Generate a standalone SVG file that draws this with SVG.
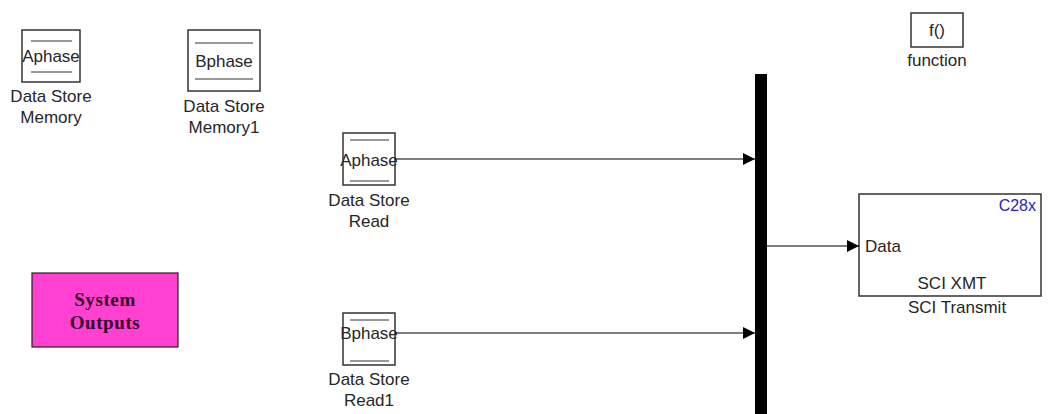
<svg xmlns="http://www.w3.org/2000/svg" width="1048" height="414" viewBox="0 0 1048 414">
<defs>
<style>
.blk{fill:none;stroke:#333;stroke-width:1.5}
.ln{stroke:#777;stroke-width:1.3}
.t{font-family:"Liberation Sans",Arial,sans-serif;font-size:17px;fill:#262626;text-anchor:middle}
.w{stroke:#000;stroke-width:1.2;fill:none}
.so{font-family:"Liberation Serif","Times New Roman",serif;font-size:19px;font-weight:bold;fill:#300028;text-anchor:middle;letter-spacing:0.6px}
</style>
<marker id="ah" markerWidth="12" markerHeight="12" refX="12" refY="6" orient="auto" markerUnits="userSpaceOnUse">
<path d="M0,0 L12,6 L0,12 Z" fill="#000"/>
</marker>
</defs>
<rect width="1048" height="414" fill="#fff"/>
<g id="dsm">
<rect x="22" y="30" width="58" height="52" fill="#fff"/>
<line class="ln" x1="31" y1="41" x2="72" y2="41"/><line class="ln" x1="31" y1="72" x2="72" y2="72"/>
<text class="t" x="51" y="62">Aphase</text>
<rect class="blk" x="22" y="30" width="58" height="52"/>
<text class="t" x="51" y="102">Data Store</text>
<text class="t" x="51" y="123">Memory</text>
</g>
<g id="dsm1">
<rect class="blk" x="188" y="30" width="72" height="61"/>
<line class="ln" x1="195" y1="43" x2="253" y2="43"/><line class="ln" x1="195" y1="79" x2="253" y2="79"/>
<text class="t" x="224" y="67">Bphase</text>
<text class="t" x="224" y="112">Data Store</text>
<text class="t" x="224" y="133">Memory1</text>
</g>
<g id="dsr">
<line class="ln" x1="350" y1="140" x2="389" y2="140"/><line class="ln" x1="350" y1="181" x2="389" y2="181"/>
<text class="t" x="369" y="166">Aphase</text>
<rect class="blk" x="343" y="133" width="52" height="52"/>
<text class="t" x="369" y="206">Data Store</text>
<text class="t" x="369" y="227">Read</text>
</g>
<g id="dsr1">
<line class="ln" x1="350" y1="320" x2="389" y2="320"/><line class="ln" x1="350" y1="361" x2="389" y2="361"/>
<text class="t" x="369" y="339">Bphase</text>
<rect class="blk" x="343" y="313" width="52" height="52"/>
<text class="t" x="369" y="385">Data Store</text>
<text class="t" x="369" y="406">Read1</text>
</g>
<g id="sysout">
<rect x="32" y="273" width="146" height="74" fill="#ff40d0" stroke="#222" stroke-width="1.2"/>
<text class="so" x="105" y="306">System</text>
<text class="so" x="105" y="329">Outputs</text>
</g>
<g id="mux">
<rect x="755" y="74" width="12" height="345" fill="#000"/>
</g>
<g id="sci">
<rect class="blk" x="859" y="194" width="182" height="102"/>
<text x="1036" y="211" font-family="'Liberation Sans',Arial,sans-serif" font-size="16" fill="#2424c8" text-anchor="end">C28x</text>
<text class="t" x="865" y="252" style="text-anchor:start">Data</text>
<text class="t" x="952" y="289">SCI XMT</text>
<text class="t" x="957" y="313">SCI Transmit</text>
</g>
<g id="func">
<rect class="blk" x="911" y="13" width="52" height="34"/>
<text class="t" x="937" y="36">f()</text>
<text class="t" x="937" y="66">function</text>
</g>
<g id="connectors">
<line class="w" x1="395" y1="159" x2="755" y2="159" marker-end="url(#ah)"/>
<line class="w" x1="395" y1="333" x2="755" y2="333" marker-end="url(#ah)"/>
<line class="w" x1="767" y1="246" x2="859" y2="246" marker-end="url(#ah)"/>
</g>
</svg>
